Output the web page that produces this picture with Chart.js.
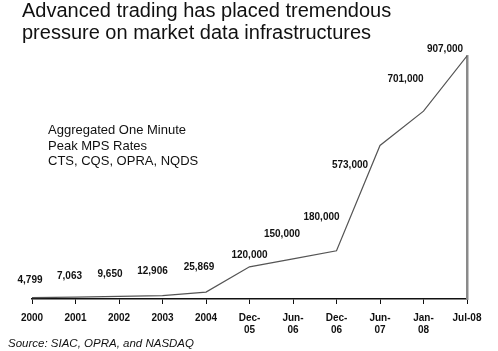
<!DOCTYPE html>
<html lang="en">
<head>
    <meta charset="UTF-8">
    <title>peak_mps</title>
    <script src="https://cdn.jsdelivr.net/npm/chart.js@4.4.1/dist/chart.umd.min.js"></script>
    <style>
        html, body {margin: 0; padding: 0; background: #fff;}
        #wrap {position: relative; width: 498px; height: 351px; overflow: hidden; font-family: Arial, "Liberation Sans", sans-serif;}
        #wrap canvas {position: absolute; left: 0; top: 0;}
        .title {position: absolute; left: 22px; top: 0px; font-size: 20px; line-height: 21.5px; color: #111; white-space: nowrap;}
        .note {position: absolute; left: 48px; top: 122px; font-size: 13px; line-height: 15.5px; color: #111; white-space: nowrap;}
        .source {position: absolute; left: 8px; top: 336px; font-size: 11.5px; line-height: 14px; font-style: italic; color: #111; white-space: nowrap;}
    </style>
</head>
<body>
    <div id="wrap">
        <canvas id="mpsChart" width="498" height="351"></canvas>
        <div class="title">Advanced trading has placed tremendous<br>pressure on market data infrastructures</div>
        <div class="note">Aggregated One Minute<br>Peak MPS Rates<br>CTS, CQS, OPRA, NQDS</div>
        <div class="source">Source: SIAC, OPRA, and NASDAQ</div>
    </div>

    <script>
        const periods = ['2000', '2001', '2002', '2003', '2004', ['Dec-', '05'], ['Jun-', '06'], ['Dec-', '06'], ['Jun-', '07'], ['Jan-', '08'], 'Jul-08'];
        const mpsRates = [4799, 7063, 9650, 12906, 25869, 120000, 150000, 180000, 573000, 701000, 907000];

        // where each value label sits relative to its point (dx, dy)
        const labelOffsets = [[-2, -17], [-6, -21], [-9, -22], [-10, -24], [-7, -25], [0, -12], [-11, -25], [-15, -34], [-30, 20], [-18, -32], [-22, -7]];

        const valueLabels = {
            id: 'valueLabels',
            afterDatasetsDraw(chart) {
                const ctx = chart.ctx;
                const meta = chart.getDatasetMeta(0);
                ctx.save();
                ctx.font = 'bold 10px Arial, "Liberation Sans", sans-serif';
                ctx.fillStyle = '#111';
                ctx.textAlign = 'center';
                ctx.textBaseline = 'middle';
                meta.data.forEach(function (pt, i) {
                    const off = labelOffsets[i];
                    ctx.fillText(mpsRates[i].toLocaleString('en-US'), pt.x + off[0], pt.y + off[1]);
                });
                ctx.restore();
            }
        };

        const ctx = document.getElementById('mpsChart').getContext('2d');
        new Chart(ctx, {
            type: 'line',
            data: {
                labels: periods,
                datasets: [{
                    data: mpsRates,
                    borderColor: '#555',
                    borderWidth: 1.2,
                    pointRadius: 0,
                    tension: 0,
                    fill: false
                }]
            },
            options: {
                responsive: false,
                animation: false,
                layout: {padding: {left: 32, right: 23, top: 56, bottom: 7}},
                plugins: {legend: {display: false}, tooltip: {enabled: false}},
                scales: {
                    x: {
                        offset: false,
                        grid: {display: true, drawOnChartArea: false, drawTicks: true, tickLength: 5, color: '#111', lineWidth: 1},
                        border: {display: true, color: '#111', width: 1.5},
                        ticks: {
                            maxRotation: 0,
                            autoSkip: false,
                            padding: 8,
                            color: '#111',
                            font: {family: 'Arial, "Liberation Sans", sans-serif', size: 10, weight: 'bold', lineHeight: 1.2}
                        }
                    },
                    y: {
                        position: 'right',
                        min: 0,
                        max: 907000,
                        grid: {display: false},
                        ticks: {display: false},
                        border: {display: true, color: '#8a8a8a', width: 2.5}
                    }
                }
            },
            plugins: [valueLabels]
        });
    </script>
</body>
</html>
